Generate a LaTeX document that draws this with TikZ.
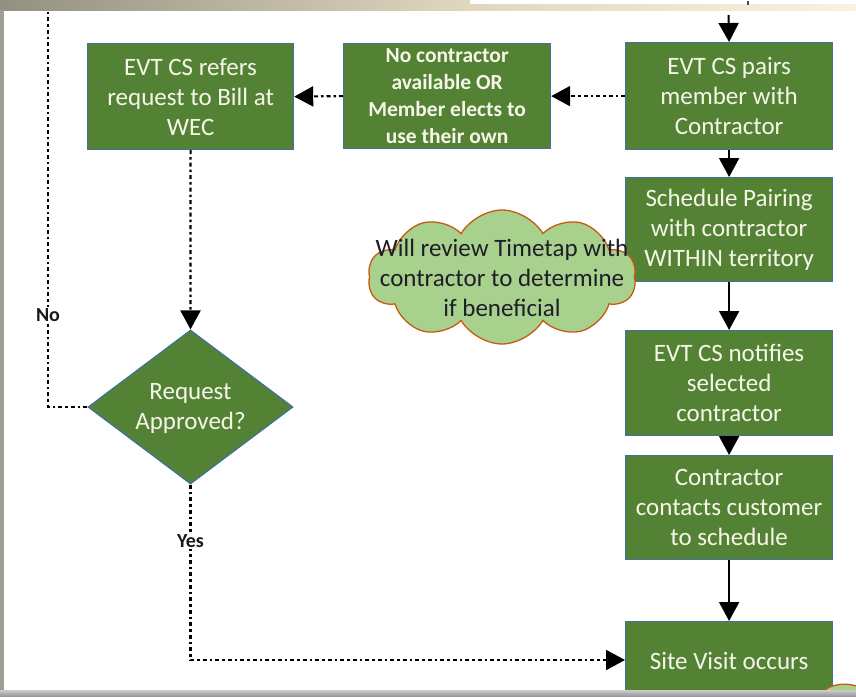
\documentclass[tikz,border=0pt]{standalone}
\usepackage{fontspec}
\setmainfont{Carlito}
\usetikzlibrary{shapes.geometric,shapes.symbols,arrows.meta}

\definecolor{boxgreen}{RGB}{84,130,53}
\definecolor{boxedge}{RGB}{65,113,156}
\definecolor{boxtext}{RGB}{246,246,232}
\definecolor{cloudfill}{RGB}{169,209,142}
\definecolor{cloudedge}{RGB}{197,90,17}
\definecolor{cloudtext}{RGB}{30,30,40}
\definecolor{frameA}{RGB}{146,144,128}
\definecolor{frameB}{RGB}{224,216,190}
\definecolor{frameC}{RGB}{248,242,224}
\definecolor{frameD}{RGB}{158,158,150}

\begin{document}
\begin{tikzpicture}[x=1pt,y=-1pt,
  stepbox/.style={draw=boxedge, fill=boxgreen, line width=1.2pt, text=boxtext,
    align=center, inner sep=0pt, anchor=north west,
    font=\fontsize{25}{30}\selectfont},
  choice/.style={diamond, draw=boxedge, fill=boxgreen, line width=1.2pt, inner sep=0pt},
  boxlabel/.style={text=boxtext, align=center, font=\fontsize{25}{30}\selectfont},
  note/.style={cloud, cloud puffs=10, cloud puff arc=120, cloud ignores aspect,
    draw=cloudedge, fill=cloudfill, line width=1.3pt, inner sep=0pt},
  tip/.style={-{Triangle[length=19pt,width=20pt]}},
  flow/.style={line width=2pt, tip},
  dashflow/.style={line width=2.2pt, dash pattern=on 4pt off 3pt on 2.5pt off 3pt},
  tag/.style={text=black!90, fill=white, inner sep=1.5pt,
    font=\bfseries\fontsize{20}{22}\selectfont},
]
\useasboundingbox (0,0) rectangle (856,696);
\fill[white] (0,0) rectangle (856,696);

% process boxes
\node[stepbox, minimum width=206pt, minimum height=106pt] (refer) at (87,43)
  {EVT CS refers\\request to Bill at\\WEC};
\node[stepbox, minimum width=207pt, minimum height=105pt,
  font=\bfseries\fontsize{21.5}{27}\selectfont] (nocontr) at (343,43)
  {No contractor\\available OR\\Member elects to\\use their own};
\node[stepbox, minimum width=207pt, minimum height=107pt] (pairs) at (625,42)
  {EVT CS pairs\\member with\\Contractor};
\node[stepbox, minimum width=207pt, minimum height=104pt] (sched) at (625,177)
  {Schedule Pairing\\with contractor\\WITHIN territory};
\node[stepbox, minimum width=207pt, minimum height=105pt] (notify) at (625,330)
  {EVT CS notifies\\selected\\contractor};
\node[stepbox, minimum width=207pt, minimum height=104pt] (contact) at (625,455)
  {Contractor\\contacts customer\\to schedule};
\node[stepbox, minimum width=207pt, minimum height=78pt] (visit) at (625,621)
  {Site Visit occurs};

% decision
\node[choice, minimum width=205pt, minimum height=154pt] (approved) at (190.5,407) {};
\node[boxlabel] (approvedtext) at (190.5,408) {Request\\Approved?};

% side note
\node[note, minimum width=268pt, minimum height=134pt] (timetap) at (502,277) {};
\node[text=cloudtext, align=center, font=\fontsize{25}{30}\selectfont]
  (timetaptext) at (502,278) {Will review Timetap with\\contractor to determine\\if beneficial};

% next note, mostly beyond the lower right edge
\begin{scope}
  \clip (0,0) rectangle (856,690);
  \node[note, minimum width=240pt, minimum height=180pt] (nextnote) at (900,760) {};
  \node[text=cloudtext, anchor=west, font=\fontsize{25}{30}\selectfont]
    (nexttext) at (826,700) {Me};
\end{scope}

% main flow
\coordinate (entry) at (728.5,15);
\draw[flow] (entry) -- (pairs.north);
\draw[flow] (pairs) -- (sched);
\draw[flow] (sched) -- (notify);
\draw[flow] (notify) -- (contact);
\draw[flow] (contact) -- (visit);

% exception path
\draw[dashflow, tip] (pairs.west) -- (nocontr.east);
\draw[dashflow, tip] (nocontr.west) -- (refer.east);
\draw[dashflow, tip] (refer.south) -- (approved.north);

% decision outcomes
\coordinate (noend) at (48,10);
\draw[dashflow] (approved.west) -| (noend);
\node[tag] (notag) at (48,315) {No};
\coordinate (yesturn) at (190.5,660);
\draw[dashflow, tip] (approved.south) -- (yesturn) -- (visit.west |- yesturn);
\node[tag] (yestag) at (190.5,541) {Yes};

% window frame
\shade[left color=frameA, right color=frameB] (0,0) rectangle (470,10);
\shade[left color=frameB, right color=frameC] (470,4) rectangle (856,10);
\fill[white] (470,0) rectangle (856,4);
\fill[black!70] (747,1) rectangle (749,5);
\fill[frameD] (0,10) rectangle (4,690);
\shade[top color=black!20, bottom color=black!40] (0,690) rectangle (856,696);
\end{tikzpicture}
\end{document}
